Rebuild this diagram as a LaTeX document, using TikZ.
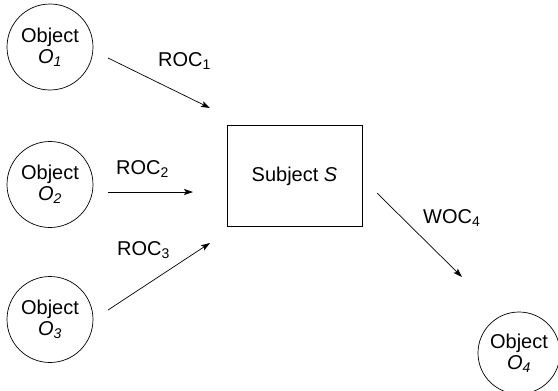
\documentclass[tikz,border=0pt]{standalone}
\usepackage{fontspec}
\setmainfont{Liberation Sans}
\usetikzlibrary{arrows.meta}
\begin{document}
\begin{tikzpicture}[x=1pt,y=-1pt,
  obj/.style={circle,draw,line width=0.7pt,minimum size=86pt,inner sep=0pt,align=center,
    font=\fontsize{20}{21}\selectfont},
  subj/.style={rectangle,draw,line width=0.8pt,minimum width=135pt,minimum height=101pt,inner sep=0pt,
    font=\fontsize{20}{21}\selectfont},
  lbl/.style={anchor=base west,inner sep=0pt,font=\fontsize{20}{21}\selectfont},
  conn/.style={line width=0.7pt,-{Stealth[length=9pt,width=6pt,inset=2pt]}}]
\useasboundingbox (0,0) rectangle (558,391);
\node[obj] (o1) at (50,47) {Object\\\textit{O}\textsubscript{\textit{1}}};
\node[obj] (o2) at (50,184.5) {Object\\\textit{O}\textsubscript{\textit{2}}};
\node[obj] (o3) at (50,319.5) {Object\\\textit{O}\textsubscript{\textit{3}}};
\node[obj,minimum size=82pt] (o4) at (519,353) {Object\\\textit{O}\textsubscript{\textit{4}}};
\node[subj] (s) at (294.5,176) {Subject \textit{S}};
\coordinate (a1s) at (108,58);  \coordinate (a1e) at (210,108);
\coordinate (a2s) at (108,192); \coordinate (a2e) at (193,192);
\coordinate (a3s) at (108,310); \coordinate (a3e) at (210,243);
\coordinate (a4s) at (377,193); \coordinate (a4e) at (462,277);
\draw[conn] (a1s) -- (a1e);
\draw[conn] (a2s) -- (a2e);
\draw[conn] (a3s) -- (a3e);
\draw[conn] (a4s) -- (a4e);
\node[lbl] (l1) at (158,66) {ROC\textsubscript{1}};
\node[lbl] (l2) at (116,174) {ROC\textsubscript{2}};
\node[lbl] (l3) at (117,255) {ROC\textsubscript{3}};
\node[lbl] (l4) at (423,223) {WOC\textsubscript{4}};
\end{tikzpicture}
\end{document}
